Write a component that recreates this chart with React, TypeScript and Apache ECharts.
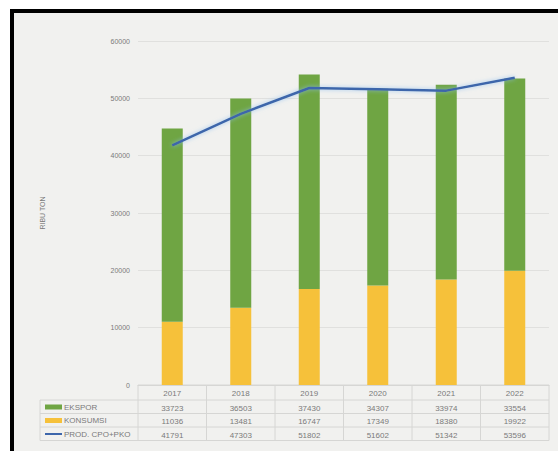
import React, { useEffect, useRef } from "react";
import * as echarts from "echarts";

const years = ["2017", "2018", "2019", "2020", "2021", "2022"];
const ekspor = [33723, 36503, 37430, 34307, 33974, 33554];
const konsumsi = [11036, 13481, 16747, 17349, 18380, 19922];
const produksi = [41791, 47303, 51802, 51602, 51342, 53596];
const seriesNames = ["EKSPOR", "KONSUMSI", "PROD. CPO+PKO"];
const yTicks = { min: 0, max: 60000, interval: 10000 };
const axisName = "RIBU TON";

const GREEN = "#6fa543";
const YELLOW = "#f6c13a";
const BLUE = "#3d66ab";
const TXT = "#7a7a7a";
const FONT = "Liberation Sans";

export default function App() {
  const ref = useRef<HTMLDivElement>(null);
  useEffect(() => {
    if (!ref.current) return;
    const chart = echarts.init(ref.current, null, { renderer: "svg" });
    const gridLeft = 138;
    const gridRight = 9;
    const gridTop = 41;
    const gridBottom = 66;
    const W = 558;
    const H = 451;
    const plotBottom = H - gridBottom;
    const plotW = W - gridLeft - gridRight;
    const band = plotW / years.length;
    const rowH = 13.5;
    const tableTop = plotBottom;
    const tableLeft = 40;
    const rowCount = 4;
    const lineColor = "#d6d6d4";

    const graphics: any[] = [
      { type: "rect", z: -10, shape: { x: 10, y: 10, width: W - 10, height: H - 10 }, style: { fill: "#f1f1ef" }, silent: true },
      { type: "rect", z: 100, shape: { x: 10, y: 9, width: W - 10, height: 4 }, style: { fill: "#000" }, silent: true },
      { type: "rect", z: 100, shape: { x: 10, y: 9, width: 4, height: H - 9 }, style: { fill: "#000" }, silent: true },
    ];
    for (let r = 0; r <= rowCount; r++) {
      const y = tableTop + r * rowH + (r === 0 ? 0 : 1.5);
      graphics.push({
        type: "line",
        z: 1,
        shape: { x1: r === 0 ? gridLeft : tableLeft, y1: y, x2: W - gridRight, y2: y },
        style: { stroke: lineColor, lineWidth: 1 },
        silent: true,
      });
    }
    for (let c = 0; c <= years.length; c++) {
      const x = gridLeft + c * band;
      graphics.push({
        type: "line",
        z: 1,
        shape: { x1: x, y1: tableTop, x2: x, y2: tableTop + rowCount * rowH + 1.5 },
        style: { stroke: lineColor, lineWidth: 1 },
        silent: true,
      });
    }
    graphics.push({
      type: "line",
      z: 1,
      shape: { x1: tableLeft, y1: tableTop + rowH + 1.5, x2: tableLeft, y2: tableTop + rowCount * rowH + 1.5 },
      style: { stroke: lineColor, lineWidth: 1 },
      silent: true,
    });
    const keyColors = [GREEN, YELLOW, BLUE];
    seriesNames.forEach((n, i) => {
      const cy = tableTop + (i + 1) * rowH + 8.5;
      if (i < 2) {
        graphics.push({ type: "rect", z: 5, shape: { x: 45, y: cy - 2.5, width: 17, height: 5 }, style: { fill: keyColors[i] }, silent: true });
      } else {
        graphics.push({ type: "line", z: 5, shape: { x1: 45, y1: cy, x2: 62, y2: cy }, style: { stroke: keyColors[i], lineWidth: 2 }, silent: true });
      }
      graphics.push({
        type: "text",
        z: 5,
        x: 64,
        y: cy,
        style: { text: n, fill: TXT, font: `8px "${FONT}"`, textVerticalAlign: "middle", textAlign: "left" },
        silent: true,
      });
    });

    const rowAxes = [ekspor, konsumsi, produksi].map((arr, i) => ({
      type: "category",
      gridIndex: 0,
      position: "bottom",
      offset: (i + 1) * rowH + 1.5,
      data: arr.map((v) => String(v)),
      axisLine: { show: false },
      axisTick: { show: false },
      axisLabel: { color: TXT, fontSize: 8, fontFamily: FONT, margin: 4, interval: 0 },
      splitLine: { show: false },
    }));

    chart.setOption({
      animation: false,
      backgroundColor: "#ffffff",
      textStyle: { fontFamily: FONT },
      grid: { left: gridLeft, right: gridRight, top: gridTop, bottom: gridBottom, containLabel: false },
      xAxis: [
        {
          type: "category",
          data: years,
          axisLine: { show: true, lineStyle: { color: lineColor } },
          axisTick: { show: false },
          axisLabel: { color: TXT, fontSize: 8, fontFamily: FONT, margin: 4, interval: 0 },
        },
        ...rowAxes,
      ],
      yAxis: {
        type: "value",
        min: yTicks.min,
        max: yTicks.max,
        interval: yTicks.interval,
        name: axisName,
        nameLocation: "middle",
        nameRotate: 90,
        nameGap: 92,
        nameTextStyle: { color: TXT, fontSize: 7, fontFamily: FONT },
        axisLine: { show: false },
        axisTick: { show: false },
        axisLabel: { color: TXT, fontSize: 7, fontFamily: FONT, margin: 8, formatter: (v: number) => String(v) },
        splitLine: { show: true, lineStyle: { color: "#e0e0de", width: 1 } },
      },
      series: [
        {
          name: seriesNames[1],
          type: "bar",
          stack: "total",
          data: konsumsi,
          barWidth: 21,
          itemStyle: { color: YELLOW },
        },
        {
          name: seriesNames[0],
          type: "bar",
          stack: "total",
          data: ekspor,
          barWidth: 21,
          itemStyle: { color: GREEN },
        },
        {
          name: seriesNames[2],
          type: "line",
          data: produksi,
          showSymbol: false,
          symbol: "none",
          lineStyle: {
            color: BLUE,
            width: 2.5,
            shadowColor: "rgba(140,190,240,0.8)",
            shadowBlur: 4,
          },
          itemStyle: { color: BLUE },
          z: 5,
        },
      ],
      graphic: graphics,
    });
    return () => chart.dispose();
  }, []);
  return (
    <div style={{ position: "fixed", left: 0, top: 0, width: 558, height: 451, background: "#fff" }}>
      <div ref={ref} style={{ width: 558, height: 451 }} />
    </div>
  );
}
